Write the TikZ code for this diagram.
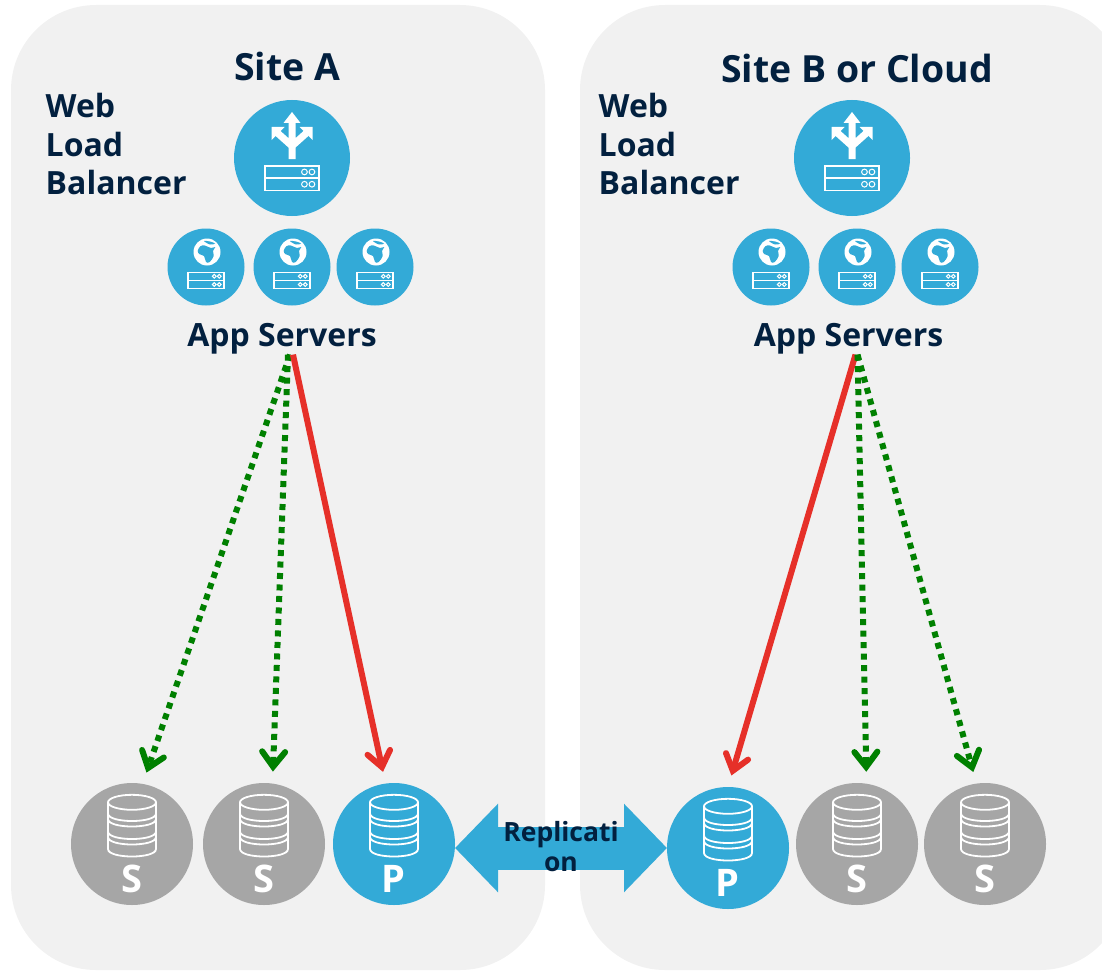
\documentclass[tikz,border=0pt]{standalone}
\usepackage{fontspec}
\setmainfont{Open Sans}
\usetikzlibrary{positioning,arrows.meta}
\definecolor{panelgray}{HTML}{F1F1F1}
\definecolor{skyblue}{HTML}{33AAD7}
\definecolor{dbgray}{HTML}{A6A6A6}
\definecolor{navy}{HTML}{02203F}
\definecolor{readgreen}{HTML}{008000}
\definecolor{writered}{HTML}{E63029}
\tikzset{
  panel/.style={rectangle, fill=panelgray, rounded corners=85pt, inner sep=0pt},
  hub/.style={circle, fill=skyblue, minimum size=116pt, inner sep=0pt, outer sep=0pt},
  appsrv/.style={circle, fill=skyblue, minimum size=77pt, inner sep=0pt, outer sep=0pt},
  dbprimary/.style={circle, fill=skyblue, minimum size=122pt, inner sep=0pt, outer sep=0pt},
  dbstandby/.style={dbprimary, fill=dbgray},
  dbtag/.style={text=white, font=\fontsize{38}{38}\selectfont\bfseries, inner sep=0pt},
  sitetitle/.style={text=navy, font=\fontsize{37.4}{40}\selectfont\bfseries, inner sep=0pt},
  caption/.style={text=navy, font=\fontsize{32}{38.5}\selectfont\bfseries, inner sep=0pt},
  readline/.style={draw=readgreen, line width=6pt, dash pattern=on 6pt off 5.5pt,
    -{Straight Barb[length=15pt,width=23pt,line cap=round]}, shorten >=12pt},
  writeline/.style={draw=writered, line width=6pt,
    -{Straight Barb[length=15pt,width=23pt,line cap=round]}, shorten >=12pt},
  reparrow/.style={draw=skyblue, line width=43pt,
    {Triangle[length=43pt,width=86pt]}-{Triangle[length=43pt,width=86pt]}},
  rack/.pic={
    \draw[white, line width=1.2pt] (-18,5.3) rectangle (18,21.7) (-18,13.3) -- (18,13.3);
    \foreach \cy in {9.3,17.5} \foreach \cx in {8.3,13.3}
      \draw[white, line width=1pt] (\cx,\cy) circle[radius=1.9pt];
  },
  splitter/.pic={
    \draw[white, line width=7pt] (0,1) -- (0,-38) (0,-12) -- (14.5,-25) (0,-12) -- (-14.5,-25);
    \fill[white] (0,-46) -- (8.5,-35) -- (-8.5,-35) -- cycle;
    \fill[white] (20.5,-31) -- (20.5,-18) -- (7.5,-31) -- cycle;
    \fill[white] (-20.5,-31) -- (-20.5,-18) -- (-7.5,-31) -- cycle;
  },
  globe/.pic={
    \fill[white] (1,-15) circle[radius=13.5pt];
    \fill[skyblue, shift={(1,-15)}] plot[smooth cycle, tension=0.6] coordinates
      {(-9.3,-1) (-6.7,-5.7) (-2.3,-6.5) (4,-4) (8.3,-5) (6,-1) (6.7,4) (2.7,10) (-1,10) (-3,4) (-7.3,2.3)};
    \fill[skyblue, shift={(1,-15)}] plot[smooth cycle, tension=0.6] coordinates
      {(-3,-11) (3,-10.5) (8,-8.5) (3,-7.5)};
  },
  dbstack/.pic={
    \draw[white, line width=1.8pt] (0,-41.7) ellipse[x radius=24pt, y radius=7.5pt];
    \draw[white, line width=1.8pt] (-24,-41.7) -- (-24,5) (24,-41.7) -- (24,5);
    \foreach \by in {-30.5,-25,-12.5,-7,5}
      \draw[white, line width=1.8pt] (-24,\by) .. controls (-24,\by+10) and (24,\by+10) .. (24,\by);
  },
}

\begin{document}
\begin{tikzpicture}[x=1pt, y=-1pt]
  \useasboundingbox (0,0) rectangle (1102,971);

  % Define nodes
  \node[panel, minimum width=534pt, minimum height=965pt] (panel_a) at (278,487.5) {};
  \node[panel, minimum width=545pt, minimum height=965pt] (panel_b) at (852.5,487.5) {};

  \node[sitetitle] (title_a) at (287,66) {Site A};
  \node[sitetitle] (title_b) at (857,68) {Site B or Cloud};
  \node[caption, align=left, anchor=north west] (lbl_a) at (45.5,93) {Web\\Load\\Balancer};
  \node[caption, align=left, anchor=north west] (lbl_b) at (598.5,93) {Web\\Load\\Balancer};

  \node[hub] (lb_a) at (292,158) {};
  \node[hub] (lb_b) at (852,158) {};

  \node[appsrv] (app1_a) at (206,267) {};
  \node[appsrv, right=9pt of app1_a] (app2_a) {};
  \node[appsrv, right=6pt of app2_a] (app3_a) {};
  \node[appsrv] (app1_b) at (771,267) {};
  \node[appsrv, right=9pt of app1_b] (app2_b) {};
  \node[appsrv, right=6pt of app2_b] (app3_b) {};

  \node[caption] (apps_a) at (282,339) {App Servers};
  \node[caption] (apps_b) at (848.5,339) {App Servers};

  \node[dbstandby] (s1_a) at (132,844) {};
  \node[dbstandby] (s2_a) at (264,844) {};
  \node[dbprimary] (p_a) at (394,844) {};
  \node[dbprimary] (p_b) at (728,848) {};
  \node[dbstandby] (s1_b) at (857,844) {};
  \node[dbstandby] (s2_b) at (985,844) {};

  % Icons
  \foreach \hubname in {lb_a,lb_b} {
    \pic at (\hubname) {splitter};
    \pic[scale=1.5] at (\hubname) {rack};
  }
  \foreach \srvname in {app1_a,app2_a,app3_a,app1_b,app2_b,app3_b} {
    \pic at (\srvname) {globe};
    \pic at (\srvname) {rack};
  }
  \foreach \dbname/\dbletter in {s1_a/S,s2_a/S,p_a/P,p_b/P,s1_b/S,s2_b/S} {
    \pic at (\dbname) {dbstack};
    \node[dbtag] (tag_\dbname) at ([xshift=-0.5pt,yshift=-35pt]\dbname) {\dbletter};
  }

  % Connect the nodes
  \draw[readline] ([xshift=8pt]apps_a.south) -- (s1_a.80);
  \draw[readline] ([xshift=6pt]apps_a.south) -- (s2_a.82);
  \draw[writeline] ([xshift=11pt]apps_a.south) -- (p_a.98);
  \draw[writeline] ([xshift=7pt]apps_b.south) -- (p_b.90);
  \draw[readline] ([xshift=9pt]apps_b.south) -- (s1_b.81);
  \draw[readline] ([xshift=9pt]apps_b.south) -- (s2_b.98);

  % Replication
  \draw[reparrow] (p_a.east |- p_b.west) -- (p_b.west);
  \node[text=navy, align=center, inner sep=0pt, font=\fontsize{26.5}{30}\selectfont\bfseries] (rep_lbl) at (561,847) {Replicati\\on};

\end{tikzpicture}
\end{document}
